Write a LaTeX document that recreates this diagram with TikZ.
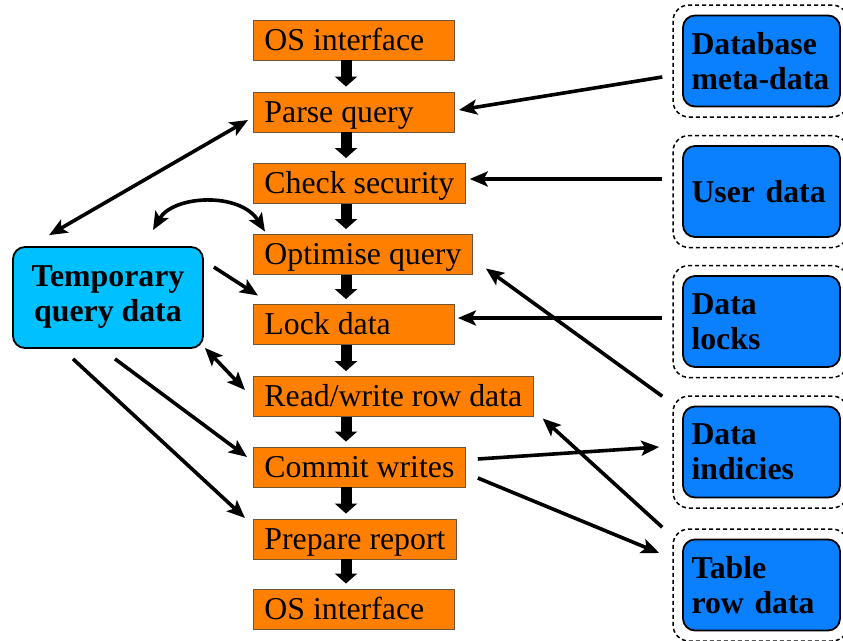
\documentclass[tikz,border=0pt]{standalone}
\usepackage{fontspec}
\setmainfont{Liberation Serif}
\usetikzlibrary{arrows.meta}
\definecolor{orangefill}{RGB}{255,128,0}
\definecolor{orangeedge}{RGB}{110,85,60}
\definecolor{storeblue}{RGB}{10,128,255}
\definecolor{tempblue}{RGB}{0,192,255}
\newcommand{\bigfont}{\fontsize{31.8}{35}\selectfont}
\newcommand{\lefttext}[1]{\setbox0\hbox{#1}\ifdim\wd0<179pt\makebox[179pt][l]{#1}\else\box0\fi}
\begin{document}
\begin{tikzpicture}[x=1pt,y=-1pt,
  stage/.style={draw=orangeedge, line width=0.9pt, fill=orangefill, anchor=west,
    minimum height=40pt, inner xsep=11pt, inner ysep=0pt,
    text height=26.5pt, text depth=6pt, font=\bigfont},
  store/.style={draw=black, line width=1.8pt, fill=storeblue, rounded corners=12pt,
    minimum width=157pt, minimum height=91pt, text width=140pt, inner xsep=8.5pt,
    align=left, font=\bigfont\bfseries},
  storeframe/.style={draw=black, line width=1.5pt, dash pattern=on 4pt off 3pt,
    rounded corners=16pt, minimum width=175pt, minimum height=112pt},
  tempbox/.style={draw=black, line width=1.8pt, fill=tempblue, rounded corners=12pt,
    minimum width=190pt, minimum height=101pt, align=center, font=\bigfont\bfseries},
  flow/.style={line width=11pt, -{Triangle[width=22pt,length=10pt]}},
  link/.style={line width=3.6pt, -{Stealth[length=18pt,width=15pt,inset=4pt]}},
  linkboth/.style={line width=3.6pt, {Stealth[length=18pt,width=15pt,inset=4pt]}-{Stealth[length=18pt,width=15pt,inset=4pt]}}
]
\clip (0,0) rectangle (843,640);
\fill[white] (0,0) rectangle (843,640);

% process stages
\node[stage] (os1) at (253,40) {\lefttext{OS interface}};
\node[stage] (parse) at (253,112) {\lefttext{Parse query}};
\node[stage] (check) at (253,183.5) {\lefttext{Check security}};
\node[stage] (opt) at (253,254.5) {\lefttext{Optimise query}};
\node[stage] (lock) at (253,324.5) {\lefttext{Lock data}};
\node[stage] (rw) at (253,396.5) {\lefttext{Read/write row data}};
\node[stage] (commit) at (253,467) {\lefttext{Commit writes}};
\node[stage] (prep) at (253,539) {\lefttext{Prepare report}};
\node[stage] (os2) at (253,609) {\lefttext{OS interface}};

\foreach \a/\b in {os1/parse,parse/check,check/opt,opt/lock,lock/rw,rw/commit,commit/prep,prep/os2}
  \draw[flow] ([xshift=93pt]\a.south west) -- ([xshift=93pt,yshift=5pt]\b.north west);

% data stores
\node[storeframe] (dbo) at (760.5,61) {};
\node[store] (db) at (761.5,61) {Database\\meta-data};
\node[storeframe] (usero) at (760.5,191.5) {};
\node[store] (user) at (761.5,191.5) {User data};
\node[storeframe] (lockso) at (760.5,321.5) {};
\node[store] (locks) at (761.5,321.5) {Data\\locks};
\node[storeframe] (indo) at (760.5,452) {};
\node[store] (ind) at (761.5,452) {Data\\indicies};
\node[storeframe] (tabo) at (760.5,585) {};
\node[store] (tab) at (761.5,585) {Table\\row data};

% temporary data
\node[tempbox] (temp) at (108,297.5) {Temporary\\query data};

% right-hand connectors
\draw[link] ([xshift=-10pt,yshift=-16pt]dbo.west) -- ([xshift=4pt,yshift=2pt]parse.east);
\draw[link] ([xshift=-10pt,yshift=12.5pt]usero.west) -- ([xshift=4pt,yshift=4.5pt]check.east);
\draw[link] ([xshift=-10pt,yshift=3.5pt]lockso.west) -- ([xshift=3pt,yshift=6.5pt]lock.east);
\draw[link] ([xshift=-10pt,yshift=-1pt]indo.north west) -- ([xshift=13pt,yshift=6.5pt]opt.south east);
\draw[link] ([xshift=12pt,yshift=8pt]commit.east) -- ([xshift=-13pt,yshift=5pt]indo.west);
\draw[link] ([xshift=12pt,yshift=-11pt]commit.east) -- ([xshift=-13pt,yshift=32pt]tabo.west);
\draw[link] ([xshift=-10pt,yshift=1pt]tabo.north west) -- ([xshift=9pt,yshift=-1.5pt]rw.south east);

% left-hand connectors
\draw[linkboth] ([xshift=37pt,yshift=11pt]temp.north west) -- ([xshift=-5pt,yshift=-8pt]parse.west);
\draw[linkboth] ([xshift=45pt,yshift=16pt]temp.north) .. controls +(20,-35) and +(-25,-40) .. ([xshift=12pt,yshift=2.5pt]opt.north west);
\draw[link] ([xshift=10pt,yshift=-21pt]temp.north east) -- ([xshift=5pt,yshift=8.5pt]lock.north west);
\draw[linkboth] ([xshift=1pt,yshift=1pt]temp.south east) -- ([xshift=-8pt,yshift=6.5pt]rw.west);
\draw[link] ([xshift=7pt,yshift=-10pt]temp.south) -- ([xshift=-6pt,yshift=10pt]commit.west);
\draw[link] ([xshift=-35pt,yshift=-10pt]temp.south) -- ([xshift=-8pt,yshift=21pt]prep.west);
\end{tikzpicture}
\end{document}
